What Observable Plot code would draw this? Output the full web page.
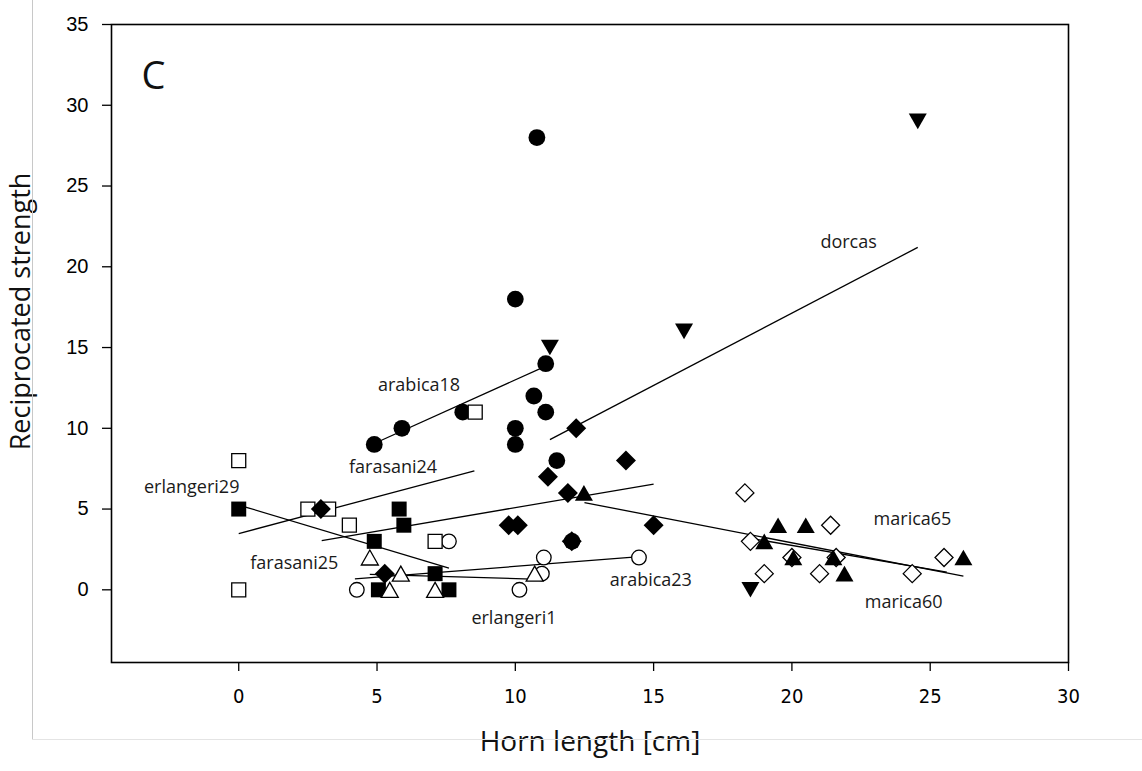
<!DOCTYPE html>
<html><head><meta charset="utf-8">
<script src="https://cdn.jsdelivr.net/npm/d3@7"></script>
<script src="https://cdn.jsdelivr.net/npm/@observablehq/plot@0.6"></script>
<style>
html,body{margin:0;padding:0;background:#fff;}
#wrap{position:relative;width:1142px;height:771px;overflow:hidden;background:#fff;}
#chart{position:absolute;left:0;top:0;}
#vline{position:absolute;left:32px;top:0;width:0;height:739px;border-left:1.5px solid #c8c8c8;}
#hline{position:absolute;left:32px;top:739px;width:1110px;height:0;border-top:1px solid #e4e4e4;}
</style></head><body>
<div id="wrap"><div id="chart"></div><div id="vline"></div><div id="hline"></div></div>
<script>
// ---- data ----
const arabica18X = [4.9, 5.9, 8.1, 10.0, 10.0, 10.0, 10.78, 10.67, 11.1, 11.1, 11.5, 12.05];
const arabica18Y = [9, 10, 11, 9, 10, 18, 28, 12, 14, 11, 8, 3];
const arabica23X = [4.27, 7.6, 10.15, 11.03, 10.96, 14.47];
const arabica23Y = [0, 3, 0, 2, 1, 2];
const erlangeri1X = [4.74, 5.46, 5.86, 7.1, 10.7];
const erlangeri1Y = [2, 0, 1, 0, 1];
const erlangeri29X = [0, 4.9, 5.8, 5.97, 7.1, 5.05, 7.6];
const erlangeri29Y = [5, 3, 5, 4, 1, 0, 0];
const farasani24X = [0, 0, 2.5, 3.25, 4.0, 7.1, 8.55];
const farasani24Y = [8, 0, 5, 5, 4, 3, 11];
const farasani25X = [2.97, 5.28, 9.76, 10.09, 11.18, 11.9, 12.04, 12.2, 14.0, 15.0];
const farasani25Y = [5, 1, 4, 4, 7, 6, 3, 10, 8, 4];
const dorcasX = [11.25, 16.1, 24.55, 18.5];
const dorcasY = [15, 16, 29, 0];
const marica60X = [18.3, 18.5, 19.0, 20.0, 21.0, 21.4, 21.6, 24.35, 25.5];
const marica60Y = [6, 3, 1, 2, 1, 4, 2, 1, 2];
const marica65X = [12.48, 19.0, 19.5, 20.5, 20.05, 21.5, 21.9, 26.2];
const marica65Y = [6, 3, 4, 4, 2, 2, 1, 2];

// regression lines
const lineName = ["arabica18","arabica23","erlangeri1","erlangeri29","farasani24","farasani25","dorcas","marica60","marica65"];
const lineX1 = [4.9, 4.2, 4.74, 0, 0, 3.0, 11.25, 18.3, 12.5];
const lineY1 = [9.06, 0.68, 0.95, 5.25, 3.48, 3.05, 9.3, 3.25, 5.4];
const lineX2 = [11.1, 14.5, 10.9, 7.6, 8.52, 15.0, 24.55, 25.6, 26.2];
const lineY2 = [13.85, 2.05, 0.65, 1.35, 7.37, 6.55, 21.2, 1.1, 0.85];

// series labels
const labelText = ["arabica18","farasani24","erlangeri29","farasani25","erlangeri1","arabica23","dorcas","marica65","marica60"];
const labelX = [6.52, 5.58, -1.7, 2.01, 9.95, 14.9, 22.05, 24.36, 24.04];
const labelY = [12.68, 7.6, 6.36, 1.64, -1.77, 0.59, 21.54, 4.37, -0.77];

const panelLetter = ["C"];
const panelX = [-3.08];
const panelY = [31.77];

const xTicks = [0, 5, 10, 15, 20, 25, 30];
const yTicks = [0, 5, 10, 15, 20, 25, 30, 35];
const xTitle = "Horn length [cm]";
const yTitle = "Reciprocated strength";

// ---- helpers ----
const pts = (xs, ys) => xs.map((x, i) => ({x, y: ys[i]}));
const lines = lineName.map((n, i) => ({n, x1: lineX1[i], y1: lineY1[i], x2: lineX2[i], y2: lineY2[i]}));
const labels = labelText.map((t, i) => ({t, x: labelX[i], y: labelY[i]}));

const circleSym = (r) => ({draw(c){ c.moveTo(r, 0); c.arc(0, 0, r, 0, 2 * Math.PI); }});
const squareSym = (s) => ({draw(c){ c.moveTo(-s,-s); c.lineTo(s,-s); c.lineTo(s,s); c.lineTo(-s,s); c.closePath(); }});
const diamondSym = (s) => ({draw(c){ c.moveTo(0,-s); c.lineTo(s,0); c.lineTo(0,s); c.lineTo(-s,0); c.closePath(); }});
const upSym = (w, h) => ({draw(c){ c.moveTo(0,-h); c.lineTo(w,h); c.lineTo(-w,h); c.closePath(); }});
const downSym = (w, h) => ({draw(c){ c.moveTo(0,h); c.lineTo(w,-h); c.lineTo(-w,-h); c.closePath(); }});

const filled = {fill: "black", stroke: "none", r: 8};
const open = {fill: "white", stroke: "black", strokeWidth: 1.3, r: 8};

const chart = Plot.plot({
  width: 1142,
  height: 771,
  marginLeft: 111,
  marginRight: 74,
  marginTop: 24,
  marginBottom: 109,
  style: {fontFamily: "'Open Sans', sans-serif", background: "white", overflow: "visible"},
  x: {domain: [-4.6, 30], label: null},
  y: {domain: [-4.5, 35], label: null},
  marks: [
    Plot.frame({stroke: "black", strokeWidth: 1.6}),
    Plot.axisX(xTicks, {tickSize: 9, tickPadding: 17, strokeWidth: 1.3, fontSize: 20, fontFamily: "'Liberation Sans Narrow', 'DejaVu Sans Condensed', 'Liberation Sans', sans-serif", fill: "black", label: null}),
    Plot.axisY(yTicks, {tickSize: 9, tickPadding: 14, strokeWidth: 1.3, fontSize: 20, fontFamily: "'Liberation Sans', Arial, sans-serif", fill: "black", label: null}),
    Plot.link(lines, {x1: "x1", y1: "y1", x2: "x2", y2: "y2", stroke: "black", strokeWidth: 1.3}),
    Plot.dot(pts(arabica23X, arabica23Y), {x: "x", y: "y", symbol: circleSym(7.3), ...open}),
    Plot.dot(pts(arabica18X, arabica18Y), {x: "x", y: "y", symbol: circleSym(8.4), ...filled}),
    Plot.dot(pts(farasani24X, farasani24Y), {x: "x", y: "y", symbol: squareSym(7), ...open}),
    Plot.dot(pts(erlangeri29X, erlangeri29Y), {x: "x", y: "y", symbol: squareSym(7.5), ...filled}),
    Plot.dot(pts(erlangeri1X, erlangeri1Y), {x: "x", y: "y", symbol: upSym(8.5, 7.5), ...open}),
    Plot.dot(pts(farasani25X, farasani25Y), {x: "x", y: "y", symbol: diamondSym(10), ...filled}),
    Plot.dot(pts(marica60X, marica60Y), {x: "x", y: "y", symbol: diamondSym(9), ...open}),
    Plot.dot(pts(marica65X, marica65Y), {x: "x", y: "y", symbol: upSym(9, 7.8), ...filled}),
    Plot.dot(pts(dorcasX, dorcasY), {x: "x", y: "y", symbol: downSym(9, 7.8), ...filled}),
    Plot.text(labels, {x: "x", y: "y", text: "t", fontSize: 18, fill: "#1a1a1a", fontFamily: "'Open Sans', sans-serif"}),
    Plot.text(panelLetter, {x: () => panelX[0], y: () => panelY[0], text: d => d, fontSize: 38, fill: "#111", fontFamily: "'Open Sans', sans-serif"}),
    Plot.text([xTitle], {frameAnchor: "bottom", dy: 88, dx: 0, text: d => d, fontSize: 28, fill: "#111", fontFamily: "'Open Sans', sans-serif", textAnchor: "middle"}),
    Plot.text([yTitle], {frameAnchor: "left", rotate: -90, dx: -90, dy: -32, text: d => d, fontSize: 27, fill: "#111", fontFamily: "'Open Sans', sans-serif", textAnchor: "middle"})
  ]
});
document.getElementById("chart").appendChild(chart);
</script></body></html>
